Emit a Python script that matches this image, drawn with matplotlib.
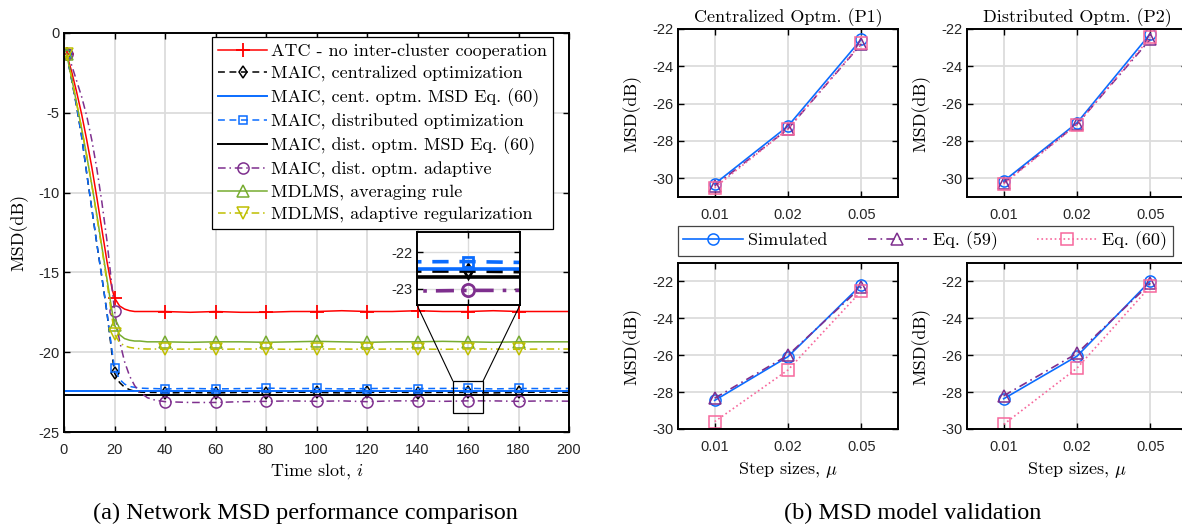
import numpy as np
import matplotlib
matplotlib.use('Agg')
import matplotlib.pyplot as plt
from matplotlib.patches import ConnectionPatch, Rectangle

plt.rcParams['font.family'] = 'Liberation Sans'
plt.rcParams['mathtext.fontset'] = 'cm'
plt.rcParams['axes.unicode_minus'] = False
plt.rcParams['lines.dashed_pattern'] = [4.5, 3]
plt.rcParams['lines.dashdot_pattern'] = [5, 2.5, 1, 2.5]

# ---------------- data: (a) network MSD vs time ----------------
time_slot = [1, 3, 5, 7, 9, 11, 13, 15, 17, 19, 20, 22, 24, 26, 28, 30, 33, 36, 40,
             50, 60, 70, 80, 90, 100, 110, 120, 130, 140, 150, 160, 170, 180, 190, 200]
marker_slots = [1, 20, 40, 60, 80, 100, 120, 140, 160, 180]

atc = [-1.3, -2.4, -3.7, -5.1, -6.7, -8.4, -10.3, -12.3, -14.3, -16.0, -16.6, -17.1, -17.3, -17.4, -17.45, -17.45, -17.45, -17.45, -17.45,
       -17.5, -17.45, -17.5, -17.5, -17.45, -17.45, -17.4, -17.45, -17.45, -17.4, -17.45, -17.45, -17.4, -17.45, -17.45, -17.45]
maic_cent = [-1.3, -2.9, -4.6, -6.5, -8.8, -11.0, -13.2, -15.3, -17.5, -20.1, -21.3, -21.9, -22.2, -22.35, -22.45, -22.5, -22.52, -22.52, -22.55,
             -22.53, -22.55, -22.52, -22.53, -22.5, -22.52, -22.55, -22.52, -22.5, -22.53, -22.52, -22.52, -22.55, -22.52, -22.5, -22.52]
maic_cent_eq60 = -22.45
maic_dist = [-1.3, -2.9, -4.6, -6.5, -8.8, -11.0, -13.2, -15.3, -17.5, -19.9, -21.0, -21.7, -22.0, -22.15, -22.2, -22.25, -22.27, -22.28, -22.3,
             -22.27, -22.3, -22.28, -22.25, -22.28, -22.27, -22.3, -22.28, -22.26, -22.28, -22.27, -22.26, -22.3, -22.27, -22.28, -22.27]
maic_dist_eq60 = -22.68
maic_adapt = [-1.3, -2.0, -3.0, -4.0, -5.2, -6.7, -8.5, -10.6, -13.0, -15.9, -17.4, -19.3, -20.6, -21.5, -22.1, -22.5, -22.85, -23.0, -23.1,
              -23.15, -23.15, -23.1, -23.08, -23.05, -23.08, -23.05, -23.1, -23.05, -23.05, -23.08, -23.05, -23.05, -23.08, -23.05, -23.07]
mdlms_avg = [-1.3, -2.8, -4.4, -6.0, -7.7, -9.5, -11.4, -13.4, -15.4, -17.4, -18.3, -18.9, -19.15, -19.25, -19.3, -19.3, -19.35, -19.35, -19.35,
             -19.38, -19.35, -19.35, -19.38, -19.35, -19.32, -19.35, -19.38, -19.35, -19.35, -19.32, -19.35, -19.38, -19.35, -19.35, -19.35]
mdlms_adapt = [-1.3, -2.8, -4.4, -6.0, -7.7, -9.5, -11.5, -13.5, -15.6, -17.8, -18.85, -19.4, -19.6, -19.7, -19.75, -19.78, -19.8, -19.8, -19.82,
               -19.8, -19.82, -19.8, -19.8, -19.82, -19.8, -19.8, -19.82, -19.8, -19.8, -19.82, -19.8, -19.8, -19.82, -19.8, -19.8]

# ---------------- data: (b) MSD model validation ----------------
step_labels = ['0.01', '0.02', '0.05']
p1_sim = [-30.3, -27.2, -22.55]
p1_eq59 = [-30.4, -27.35, -22.8]
p1_eq60 = [-30.5, -27.35, -22.75]
p2_sim = [-30.15, -27.03, -22.25]
p2_eq59 = [-30.25, -27.1, -22.55]
p2_eq60 = [-30.3, -27.12, -22.45]
p1_row2_sim = [-28.45, -26.08, -22.18]
p1_row2_eq59 = [-28.33, -26.0, -22.3]
p1_row2_eq60 = [-29.6, -26.8, -22.52]
p2_row2_sim = [-28.36, -26.05, -21.97]
p2_row2_eq59 = [-28.2, -25.9, -22.1]
p2_row2_eq60 = [-29.75, -26.7, -22.27]

LBL = 'cmr10'
FS = 13
TICK_FS = 10.5
GRID = '#dcdcdc'

C_RED, C_BLUE, C_PURPLE = '#ff0000', '#0a6cff', '#7e2f8e'
C_GREEN, C_YELLOW, C_PINK = '#77ac30', '#bfbf00', '#f7679c'


def style_axes(ax):
    ax.grid(True, color=GRID, lw=1.3, ls='-')
    ax.set_axisbelow(True)
    ax.tick_params(direction='in', top=True, right=True, length=4,
                   width=1.0, labelsize=TICK_FS, color='k', labelcolor='#262626')
    for s in ax.spines.values():
        s.set_linewidth(1.4)


W, H = 1182, 524
fig = plt.figure(figsize=(W / 100, H / 100), dpi=100)


def fig_rect(x0, y0, x1, y1):
    return [x0 / W, 1 - y1 / H, (x1 - x0) / W, (y1 - y0) / H]


# ---------------- (a) ----------------
ax = fig.add_axes(fig_rect(64, 33, 569, 432))
t = np.array(time_slot)
mk = np.flatnonzero(np.isin(t, marker_slots))

series = [
    (atc, dict(color=C_RED, ls='-', marker='+', ms=10, mew=1.3),
     'ATC - no inter-cluster cooperation'),
    (maic_cent, dict(color='k', ls='--', marker='d', ms=6.5, mfc='none', mew=1.1),
     'MAIC, centralized optimization'),
    (maic_cent_eq60, dict(color=C_BLUE, ls='-'), 'MAIC, cent. optm. MSD Eq. (60)'),
    (maic_dist, dict(color=C_BLUE, ls='--', marker='s', ms=6, mfc='none', mew=1.1),
     'MAIC, distributed optimization'),
    (maic_dist_eq60, dict(color='k', ls='-'), 'MAIC, dist. optm. MSD Eq. (60)'),
    (maic_adapt, dict(color=C_PURPLE, ls='-.', marker='o', ms=8, mfc='none', mew=1.1),
     'MAIC, dist. optm. adaptive'),
    (mdlms_avg, dict(color=C_GREEN, ls='-', marker='^', ms=9, mfc='none', mew=1.1),
     'MDLMS, averaging rule'),
    (mdlms_adapt, dict(color=C_YELLOW, ls='-.', marker='v', ms=9, mfc='none', mew=1.1),
     'MDLMS, adaptive regularization'),
]

handles = []
for vals, kw, lab in series:
    if np.isscalar(vals):
        h = ax.axhline(vals, lw=1.4, label=lab, **kw)
    else:
        h, = ax.plot(t, vals, lw=1.1, markevery=list(mk), label=lab, **kw)
    handles.append(h)

ax.set_xlim(0, 200)
ax.set_ylim(-25, 0)
ax.set_xticks(np.arange(0, 201, 20))
ax.set_yticks(np.arange(-25, 1, 5))
style_axes(ax)
ax.tick_params(axis='x', pad=8)
ax.set_xlabel('Time slot, $i$', family=LBL, fontsize=FS, labelpad=3)
ax.set_ylabel('MSD(dB)', family=LBL, fontsize=FS)
ax.yaxis.set_label_coords(-0.07, 0.5)

leg = fig.legend(handles=handles, loc='upper right',
                 bbox_to_anchor=(553 / W, 1 - 37 / H), borderaxespad=0,
                 prop={'family': LBL, 'size': FS}, handlelength=2.7,
                 handletextpad=0.2, labelspacing=0.36, borderpad=0.35,
                 fancybox=False, framealpha=1, edgecolor='k')
leg.get_frame().set_linewidth(0.9)

# inset zoom around t = 160
ZOOM_X = (154, 166)
ZOOM_Y = (-23.8, -21.8)
axin = fig.add_axes(fig_rect(417, 232, 520, 305))
for vals, kw, lab in series:
    kw2 = dict(kw)
    if 'ms' in kw2:
        kw2['ms'] = kw2['ms'] * 1.1
        kw2['mew'] = 2.0
    if np.isscalar(vals):
        axin.axhline(vals, lw=2.6, **kw2)
    else:
        axin.plot(t, vals, lw=2.6, markevery=list(mk), **kw2)
axin.set_xlim(154, 166)
axin.set_ylim(-23.45, -21.45)
axin.set_xticks([160])
axin.set_xticklabels([])
axin.set_yticks([-23, -22])
style_axes(axin)
axin.grid(True, color=GRID, lw=1.0)

ax.add_patch(Rectangle((ZOOM_X[0], ZOOM_Y[0]), ZOOM_X[1] - ZOOM_X[0],
                       ZOOM_Y[1] - ZOOM_Y[0], fill=False, ec='k', lw=0.9, zorder=5))
for xa, xb in [(ZOOM_X[0], 0), (ZOOM_X[1], 1)]:
    con = ConnectionPatch(xyA=(xa, ZOOM_Y[1]), coordsA=ax.transData,
                          xyB=(xb, 0), coordsB=axin.transAxes, color='k', lw=0.8)
    fig.add_artist(con)

# ---------------- (b) ----------------
panels = [
    (fig_rect(678, 29, 898, 197), p1_sim, p1_eq59, p1_eq60, (-31, -22), 'Centralized Optm. (P1)', False),
    (fig_rect(967, 29, 1187, 197), p2_sim, p2_eq59, p2_eq60, (-31, -22), 'Distributed Optm. (P2)', False),
    (fig_rect(678, 263, 898, 429), p1_row2_sim, p1_row2_eq59, p1_row2_eq60, (-30, -21), None, True),
    (fig_rect(967, 263, 1187, 429), p2_row2_sim, p2_row2_eq59, p2_row2_eq60, (-30, -21), None, True),
]
xpos = np.arange(1, len(step_labels) + 1)
for rect, sim, e59, e60, ylim, title, bottom in panels:
    a = fig.add_axes(rect)
    h1, = a.plot(xpos, sim, color=C_BLUE, ls='-', lw=1.2, marker='o', ms=8,
                 mfc='none', mew=1.1, label='Simulated')
    h2, = a.plot(xpos, e59, color=C_PURPLE, ls='-.', lw=1.2, marker='^', ms=8.5,
                 mfc='none', mew=1.1, label='Eq. (59)')
    h3, = a.plot(xpos, e60, color=C_PINK, ls=':', lw=1.2, marker='s', ms=8,
                 mfc='none', mew=1.1, label='Eq. (60)')
    a.set_xlim(0.5, 3.5)
    a.set_ylim(*ylim)
    a.set_xticks(xpos)
    a.set_xticklabels(step_labels)
    a.set_yticks(np.arange(-30, -21, 2))
    style_axes(a)
    a.tick_params(axis='x', pad=8)
    a.set_ylabel('MSD(dB)', family=LBL, fontsize=FS)
    a.yaxis.set_label_coords(-0.165, 0.5)
    if title:
        a.set_title(title, family=LBL, fontsize=FS, pad=5)
    if bottom:
        a.set_xlabel('Step sizes, $\\mu$', family=LBL, fontsize=FS, labelpad=4)

leg2 = fig.legend(handles=[h1, h2, h3], loc='upper left', ncol=3,
                  bbox_to_anchor=(678 / W, 1 - 226 / H),
                  borderaxespad=0, prop={'family': LBL, 'size': FS},
                  handlelength=3.3, handletextpad=0.3, borderpad=0.3,
                  columnspacing=2.2,
                  fancybox=False, framealpha=1, edgecolor='#444444')
leg2.get_frame().set_linewidth(0.9)

fig.text(305 / W, 1 - 513 / H, '(a) Network MSD performance comparison',
         family='Liberation Serif', fontsize=17.5, ha='center', va='center')
fig.text(913 / W, 1 - 513 / H, '(b) MSD model validation',
         family='Liberation Serif', fontsize=17.5, ha='center', va='center')

fig.savefig('out.png', dpi=100)
